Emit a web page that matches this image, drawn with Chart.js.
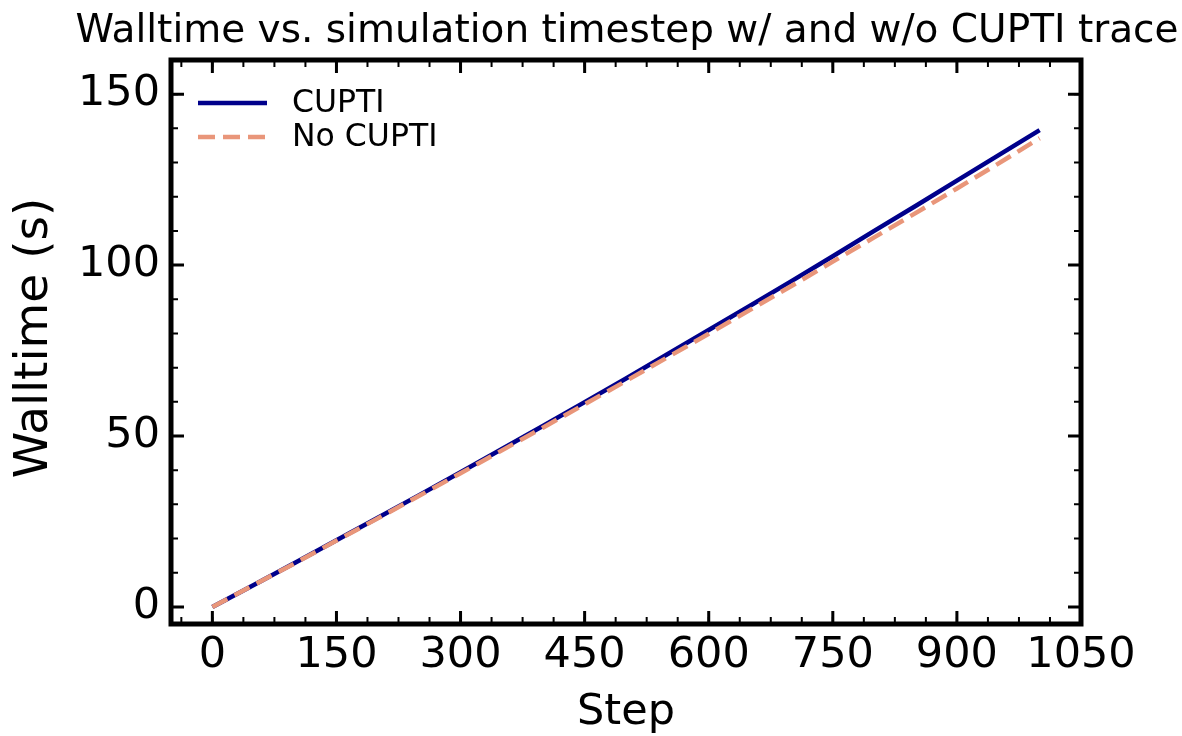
<!DOCTYPE html>
<html>
<head>
<meta charset="utf-8">
<script src="https://cdn.jsdelivr.net/npm/chart.js@4.4.1/dist/chart.umd.min.js"></script>
<style>
  html, body { margin: 0; padding: 0; background: #fff; }
  #wrap { width: 1182px; height: 736px; }
</style>
</head>
<body>
<div id="wrap"><canvas id="chart" width="1182" height="736"></canvas></div>
<script>
// Walltime vs step, with / without CUPTI trace
const steps = [0, 50, 100, 150, 200, 250, 300, 350, 400, 450, 500,
               550, 600, 650, 700, 750, 800, 850, 900, 950, 1000];
const cuptiTime = [0, 6.4, 12.9, 19.5, 26.1, 32.7, 39.4, 46.2, 53.0, 59.9, 66.8,
                   73.9, 81.0, 88.1, 95.3, 102.6, 110.0, 117.3, 124.7, 132.1, 139.5];
const noCuptiTime = [0, 6.4, 12.8, 19.4, 25.9, 32.5, 39.1, 45.8, 52.5, 59.3, 66.1,
                     73.0, 79.9, 86.9, 93.9, 101.0, 108.1, 115.2, 122.4, 129.7, 137.1];
const xTicks = [0, 150, 300, 450, 600, 750, 900, 1050];
const yTicks = [0, 50, 100, 150];
const xMinorStep = 37.5;
const yMinorStep = 10;

const FONT = '"DejaVu Sans", sans-serif';
const BLUE = '#00008b';
const SALMON = '#e9967a';

function pts(ys) { return steps.map((s, i) => ({ x: s, y: ys[i] })); }

// frame, inward ticks, labels, legend, title
const mplStyle = {
  id: 'mplStyle',
  afterDraw(chart) {
    const ctx = chart.ctx;
    const a = chart.chartArea;
    const xs = chart.scales.x, ys = chart.scales.y;
    ctx.save();
    ctx.strokeStyle = '#000';
    ctx.lineCap = 'butt';

    function tickX(v, len, w) {
      const px = xs.getPixelForValue(v);
      ctx.lineWidth = w;
      ctx.beginPath();
      ctx.moveTo(px, a.bottom); ctx.lineTo(px, a.bottom - len);
      ctx.moveTo(px, a.top); ctx.lineTo(px, a.top + len);
      ctx.stroke();
    }
    function tickY(v, len, w) {
      const py = ys.getPixelForValue(v);
      ctx.lineWidth = w;
      ctx.beginPath();
      ctx.moveTo(a.left, py); ctx.lineTo(a.left + len, py);
      ctx.moveTo(a.right, py); ctx.lineTo(a.right - len, py);
      ctx.stroke();
    }
    for (let v = Math.ceil(xs.min / xMinorStep) * xMinorStep; v <= xs.max; v += xMinorStep) tickX(v, 7, 2);
    for (let v = Math.ceil(ys.min / yMinorStep) * yMinorStep; v <= ys.max; v += yMinorStep) tickY(v, 7, 2);
    xTicks.forEach(v => tickX(v, 13, 3));
    yTicks.forEach(v => tickY(v, 13, 3));

    ctx.lineWidth = 5;
    ctx.strokeRect(a.left, a.top, a.right - a.left, a.bottom - a.top);

    ctx.fillStyle = '#000';
    ctx.font = '43px ' + FONT;
    ctx.textAlign = 'center';
    ctx.textBaseline = 'middle';
    xTicks.forEach(v => ctx.fillText(String(v), xs.getPixelForValue(v), 656));
    ctx.textAlign = 'right';
    yTicks.forEach(v => ctx.fillText(String(v), 160, ys.getPixelForValue(v)));

    ctx.textAlign = 'center';
    ctx.fillText('Step', (a.left + a.right) / 2, 713);
    ctx.save();
    ctx.translate(35, (a.top + a.bottom) / 2 - 4);
    ctx.rotate(-Math.PI / 2);
    ctx.font = '47px ' + FONT;
    ctx.fillText('Walltime (s)', 0, 0);
    ctx.restore();

    ctx.font = '39px ' + FONT;
    ctx.textBaseline = 'alphabetic';
    ctx.fillText('Walltime vs. simulation timestep w/ and w/o CUPTI trace', 627, 42);

    // legend
    ctx.lineWidth = 4.5;
    ctx.strokeStyle = BLUE;
    ctx.beginPath(); ctx.moveTo(198, 103); ctx.lineTo(267, 103); ctx.stroke();
    ctx.strokeStyle = SALMON;
    ctx.setLineDash([17, 8]);
    ctx.beginPath(); ctx.moveTo(198, 137); ctx.lineTo(267, 137); ctx.stroke();
    ctx.setLineDash([]);
    ctx.font = '31.5px ' + FONT;
    ctx.textAlign = 'left';
    ctx.textBaseline = 'middle';
    ctx.fillText('CUPTI', 292, 104);
    ctx.fillText('No CUPTI', 292, 138);
    ctx.restore();
  }
};

new Chart(document.getElementById('chart'), {
  type: 'line',
  data: {
    datasets: [
      { label: 'CUPTI', data: pts(cuptiTime), borderColor: BLUE, borderWidth: 4.5,
        pointRadius: 0, tension: 0, order: 1 },
      { label: 'No CUPTI', data: pts(noCuptiTime), borderColor: SALMON, borderWidth: 4.5,
        borderDash: [17, 8], pointRadius: 0, tension: 0, order: 0 },
    ]
  },
  options: {
    responsive: false,
    animation: false,
    devicePixelRatio: 1,
    layout: { padding: { left: 171, right: 101, top: 60, bottom: 112 } },
    plugins: { legend: { display: false }, tooltip: { enabled: false }, title: { display: false } },
    scales: {
      x: { type: 'linear', min: -50, max: 1050, display: false, grid: { display: false } },
      y: { type: 'linear', min: -5, max: 160, display: false, grid: { display: false } }
    }
  },
  plugins: [mplStyle]
});
</script>
</body>
</html>
